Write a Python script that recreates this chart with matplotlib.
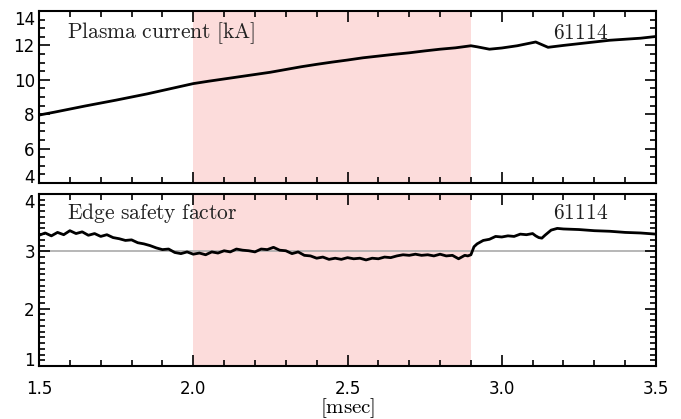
import matplotlib
matplotlib.use('Agg')
import matplotlib.pyplot as plt
from matplotlib.ticker import MultipleLocator, FormatStrFormatter

plt.rcParams['mathtext.fontset'] = 'cm'
plt.rcParams['font.family'] = 'DejaVu Sans'

# plasma current [kA]
t_ip = [1.50, 1.55, 1.60, 1.65, 1.70, 1.75, 1.80, 1.85, 1.90, 1.95,
        2.00, 2.05, 2.10, 2.15, 2.20, 2.25, 2.30, 2.35, 2.40, 2.45,
        2.50, 2.55, 2.60, 2.65, 2.70, 2.75, 2.80, 2.85, 2.90, 2.92,
        2.96, 3.00, 3.05, 3.11, 3.15, 3.20, 3.25, 3.30, 3.35, 3.40,
        3.45, 3.50]
ip = [7.95, 8.12, 8.30, 8.48, 8.65, 8.82, 9.00, 9.18, 9.38, 9.58,
      9.78, 9.92, 10.05, 10.18, 10.31, 10.44, 10.60, 10.76, 10.90, 11.03,
      11.15, 11.28, 11.38, 11.48, 11.57, 11.68, 11.78, 11.86, 11.98, 11.92,
      11.78, 11.85, 11.98, 12.20, 11.89, 12.00, 12.10, 12.20, 12.30, 12.36,
      12.42, 12.52]

# edge safety factor
t_q = [1.50, 1.52, 1.54, 1.56, 1.58, 1.60, 1.62, 1.64, 1.66, 1.68,
       1.70, 1.72, 1.74, 1.76, 1.78, 1.80, 1.82, 1.84, 1.86, 1.88,
       1.90, 1.92, 1.94, 1.96, 1.98, 2.00, 2.02, 2.04, 2.06, 2.08,
       2.10, 2.12, 2.14, 2.16, 2.18, 2.20, 2.22, 2.24, 2.26, 2.28,
       2.30, 2.32, 2.34, 2.36, 2.38, 2.40, 2.42, 2.44, 2.46, 2.48,
       2.50, 2.52, 2.54, 2.56, 2.58, 2.60, 2.62, 2.64, 2.66, 2.68,
       2.70, 2.72, 2.74, 2.76, 2.78, 2.80, 2.82, 2.84, 2.86, 2.88,
       2.89, 2.90, 2.91, 2.92, 2.94, 2.96, 2.98, 3.00, 3.02, 3.04,
       3.06, 3.08, 3.10, 3.11, 3.12, 3.13, 3.14, 3.16, 3.18, 3.20,
       3.25, 3.30, 3.35, 3.40, 3.45, 3.50]
q = [3.28, 3.32, 3.27, 3.33, 3.29, 3.36, 3.31, 3.34, 3.28, 3.31,
     3.26, 3.29, 3.24, 3.22, 3.19, 3.20, 3.15, 3.13, 3.10, 3.06,
     3.03, 3.04, 2.98, 2.96, 2.99, 2.95, 2.97, 2.94, 2.99, 2.97,
     3.01, 2.99, 3.04, 3.02, 3.01, 2.99, 3.04, 3.03, 3.07, 3.02,
     3.01, 2.96, 2.99, 2.93, 2.92, 2.88, 2.90, 2.86, 2.88, 2.86,
     2.89, 2.87, 2.88, 2.85, 2.88, 2.87, 2.90, 2.89, 2.92, 2.94,
     2.93, 2.95, 2.93, 2.94, 2.92, 2.95, 2.92, 2.93, 2.87, 2.93,
     2.92, 2.94, 3.08, 3.13, 3.19, 3.21, 3.26, 3.25, 3.27, 3.26,
     3.30, 3.29, 3.31, 3.27, 3.24, 3.23, 3.28, 3.37, 3.40, 3.39,
     3.38, 3.36, 3.35, 3.33, 3.32, 3.30]

shot = '61114'
span = (2.0, 2.9)
pink = '#fcdcdb'

fig = plt.figure(figsize=(6.81, 4.19), dpi=100)
ax1 = fig.add_axes([0.0573, 0.5632, 0.906, 0.4105])
ax2 = fig.add_axes([0.0573, 0.1265, 0.906, 0.4105])

def style(ax, ymin, ymax, ymaj, ymin_step):
    ax.set_xlim(1.5, 3.5)
    ax.set_ylim(ymin, ymax)
    ax.axvspan(*span, color=pink, lw=0, zorder=0)
    ax.xaxis.set_major_locator(MultipleLocator(0.5))
    ax.xaxis.set_minor_locator(MultipleLocator(0.1))
    ax.yaxis.set_major_locator(MultipleLocator(ymaj))
    ax.yaxis.set_minor_locator(MultipleLocator(ymin_step))
    ax.tick_params(which='both', direction='in', top=True, right=True,
                   width=1.2, labelsize=12)
    ax.tick_params(which='major', length=8)
    ax.tick_params(which='minor', length=4)
    ax.tick_params(axis='x', pad=10)
    ax.tick_params(axis='y', pad=3)
    for s in ax.spines.values():
        s.set_linewidth(1.5)

def pull_end_labels(ax, lo, hi):
    # keep the end labels inside the frame, like the original
    fig.canvas.draw()
    for tick in ax.yaxis.get_major_ticks():
        txt = tick.label1.get_text()
        if txt == str(lo):
            tick.label1.set_verticalalignment('baseline')
        elif txt == str(hi):
            tick.label1.set_verticalalignment('top')

style(ax1, 4, 14, 2, 0.5)
ax1.plot(t_ip, ip, color='black', lw=2)
ax1.tick_params(labelbottom=False)
ax1.text(0.045, 0.87, r'$\mathrm{Plasma\ current\ [kA]}$', transform=ax1.transAxes,
         fontsize=15.5, va='center', color='#222222')
ax1.text(0.833, 0.87, r'$\mathrm{%s}$' % shot, transform=ax1.transAxes,
         fontsize=15.5, va='center', color='#222222')

style(ax2, 1, 4, 1, 0.1)
ax2.axhline(3, color='#aaaaaa', lw=1.2, zorder=1)
ax2.plot(t_q, q, color='black', lw=2, zorder=2)
ax2.xaxis.set_major_formatter(FormatStrFormatter('%.1f'))
ax2.text(0.045, 0.89, r'$\mathrm{Edge\ safety\ factor}$', transform=ax2.transAxes,
         fontsize=15.5, va='center', color='#222222')
ax2.text(0.833, 0.89, r'$\mathrm{%s}$' % shot, transform=ax2.transAxes,
         fontsize=15.5, va='center', color='#222222')
ax2.set_xlabel(r'$\mathrm{[msec]}$', fontsize=15, labelpad=-1)

pull_end_labels(ax1, 4, 14)
pull_end_labels(ax2, 1, 4)

fig.savefig('out.png', dpi=100)
